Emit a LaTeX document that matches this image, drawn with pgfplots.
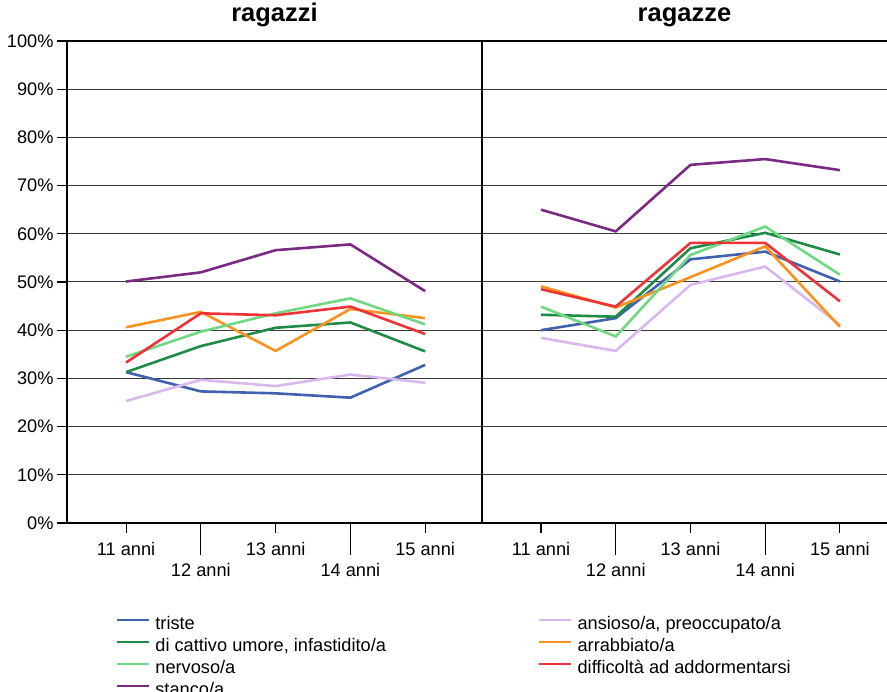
\documentclass[border=0pt]{standalone}
\usepackage{fontspec}
\setmainfont{Liberation Sans}
\usepackage{pgfplots}
\usepackage{pgfplotstable}
\pgfplotsset{compat=1.18}
\definecolor{ctriste}{HTML}{4060B0}
\definecolor{cansioso}{HTML}{D9B8F0}
\definecolor{ccattivo}{HTML}{1E8C45}
\definecolor{carrabbiato}{HTML}{F7931E}
\definecolor{cnervoso}{HTML}{70D880}
\definecolor{cdifficolta}{HTML}{EE3338}
\definecolor{cstanco}{HTML}{7A2A82}
\definecolor{gridgray}{HTML}{3A3A3A}
\newcommand\lab{\fontsize{18.2}{21}\selectfont}

% percentuali per eta (11..15 anni)
\pgfplotstableread{
x triste ansioso cattivo arrabbiato nervoso difficolta stanco
0 31.3 25.3 31.3 40.6 34.5 33.3 50.1
1 27.3 29.7 36.7 43.8 39.7 43.5 52.0
2 26.9 28.4 40.5 35.7 43.5 43.1 56.6
3 26.0 30.8 41.6 44.4 46.6 44.9 57.8
4 32.8 29.1 35.6 42.5 41.2 39.2 48.1
}\ragazzi
\pgfplotstableread{
x triste ansioso cattivo arrabbiato nervoso difficolta stanco
0 40.0 38.4 43.2 49.1 44.9 48.5 65.0
1 42.5 35.7 42.8 44.7 38.7 44.9 60.5
2 54.7 49.4 57.0 51.0 55.6 58.1 74.3
3 56.3 53.2 60.2 57.4 61.5 58.1 75.5
4 50.1 41.1 55.7 40.7 51.5 46.0 73.2
}\ragazze

\pgfplotsset{
  panel/.style={
    scale only axis, height=482pt,
    ymin=0, ymax=100,
    xmin=-0.79,
    axis x line*=bottom, axis y line*=left,
    axis line style={black, line width=2.4pt},
    ymajorgrids, grid style={gridgray, line width=1pt},
    ytick={0,10,...,90},
    extra y ticks={100},
    extra y tick style={grid style={black, line width=1.8pt}},
    tick align=outside,
    tick style={black, line width=1.1pt},
    major tick length=10pt,
    xtick={0,2,4},
    extra x ticks={1,3},
    extra x tick style={major tick length=32pt, xticklabel style={yshift=1pt}},
    xticklabel style={font=\lab, anchor=base, yshift=-23pt},
    yticklabel style={font=\lab},
    title style={font=\bfseries\fontsize{25.5}{28}\selectfont, at={(0.5,1)}, anchor=base, yshift=13pt},
    every axis plot/.append style={line width=2.6pt, no markers},
    clip=false,
  },
}

\begin{document}
\begin{tikzpicture}
\path[use as bounding box] (-67pt,-169pt) rectangle (820pt,523pt);
\begin{axis}[panel, at={(0pt,0pt)}, anchor=south west,
  width=415pt, xmax=4.76,
  title={ragazzi},
  xticklabels={11 anni,13 anni,15 anni},
  extra x tick labels={12 anni,14 anni},
  yticklabels={0\%,10\%,20\%,30\%,40\%,50\%,60\%,70\%,80\%,90\%},
  extra y tick labels={100\%},
  legend columns=2,
  legend cell align=left,
  legend image code/.code={\draw[#1, line width=2.2pt] (0pt,5.5pt) -- (32pt,5.5pt);},
  legend style={draw=none, fill=none, at={(0,0)}, anchor=north west,
    xshift=49pt, yshift=-91pt, inner sep=0pt, row sep=0pt, column sep=0pt,
    font=\lab,
    nodes={inner sep=0pt, text height=15pt, text depth=7pt},
    /tikz/every odd column/.append style={column sep=5pt}},
]
\addplot[ctriste] table[x=x, y=triste] {\ragazzi};
\addlegendentry{\makebox[383pt][l]{triste}}
\addplot[cansioso] table[x=x, y=ansioso] {\ragazzi};
\addlegendentry{ansioso/a, preoccupato/a}
\addplot[ccattivo] table[x=x, y=cattivo] {\ragazzi};
\addlegendentry{\makebox[383pt][l]{di cattivo umore, infastidito/a}}
\addplot[carrabbiato] table[x=x, y=arrabbiato] {\ragazzi};
\addlegendentry{arrabbiato/a}
\addplot[cnervoso] table[x=x, y=nervoso] {\ragazzi};
\addlegendentry{\makebox[383pt][l]{nervoso/a}}
\addplot[cdifficolta] table[x=x, y=difficolta] {\ragazzi};
\addlegendentry{difficoltà ad addormentarsi}
\addplot[cstanco] table[x=x, y=stanco] {\ragazzi};
\addlegendentry{\makebox[383pt][l]{stanco/a}}
\end{axis}
\begin{axis}[panel, at={(415pt,0pt)}, anchor=south west,
  width=405pt, xmax=4.63,
  title={ragazze},
  xticklabels={11 anni,13 anni,15 anni},
  extra x tick labels={12 anni,14 anni},
  yticklabels={}, extra y tick labels={},
  y tick style={draw=none},
]
\addplot[ctriste] table[x=x, y=triste] {\ragazze};
\addplot[cansioso] table[x=x, y=ansioso] {\ragazze};
\addplot[ccattivo] table[x=x, y=cattivo] {\ragazze};
\addplot[carrabbiato] table[x=x, y=arrabbiato] {\ragazze};
\addplot[cnervoso] table[x=x, y=nervoso] {\ragazze};
\addplot[cdifficolta] table[x=x, y=difficolta] {\ragazze};
\addplot[cstanco] table[x=x, y=stanco] {\ragazze};
\end{axis}
\end{tikzpicture}
\end{document}
